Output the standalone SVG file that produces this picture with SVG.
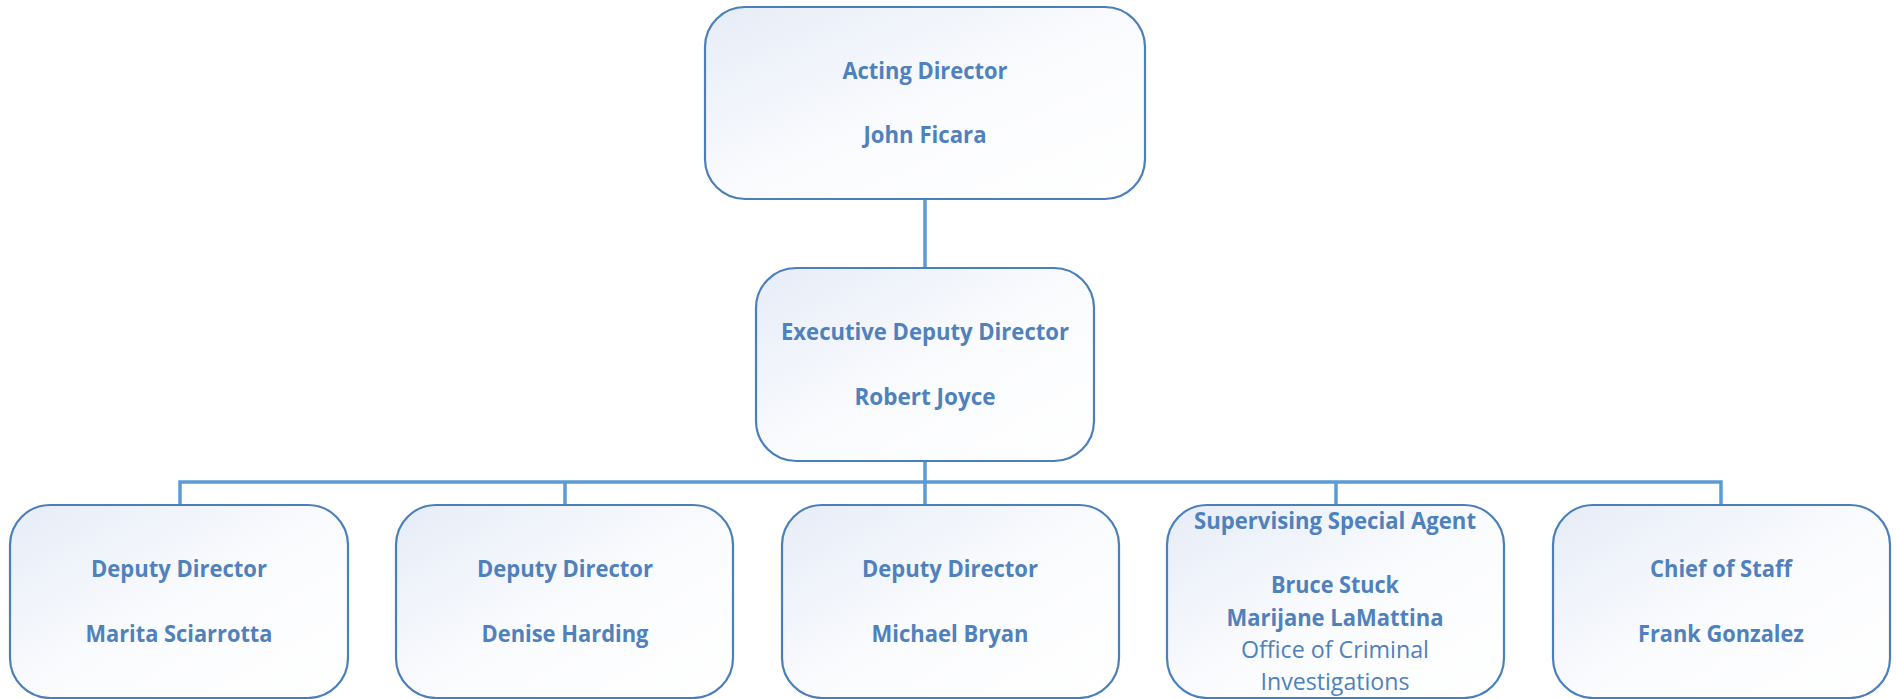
<svg xmlns="http://www.w3.org/2000/svg" width="1896" height="699" viewBox="0 0 1896 699">
<defs>
<linearGradient id="g" x1="0" y1="0" x2="1" y2="1">
<stop offset="0" stop-color="#e6ecf7"/>
<stop offset="0.55" stop-color="#fbfcfe"/>
<stop offset="1" stop-color="#ffffff"/>
</linearGradient>
<style>
.box{fill:url(#g);stroke:#4a7fbb;stroke-width:2.2}
.t{font-family:"Open Sans","Noto Sans","Liberation Sans",sans-serif;font-size:24px;fill:#4f81bd;text-anchor:middle}
.b{font-weight:bold}
.c{fill:none;stroke:#5b9bd5;stroke-width:3.5}
</style>
</defs>
<rect width="1896" height="699" fill="#ffffff"/>
<g id="connectors">
<line class="c" x1="925" y1="199" x2="925" y2="268"/>
<line class="c" x1="925" y1="461" x2="925" y2="505"/>
<polyline class="c" points="180,505 180,482 1721,482 1721,505"/>
<line class="c" x1="565" y1="482" x2="565" y2="505"/>
<line class="c" x1="1336" y1="482" x2="1336" y2="505"/>
</g>
<g id="acting-director">
<rect class="box" x="705" y="7" width="440" height="192" rx="40" ry="40"/>
<text class="t b" x="925" y="79" textLength="165" lengthAdjust="spacingAndGlyphs">Acting Director</text>
<text class="t b" x="925" y="143" textLength="123" lengthAdjust="spacingAndGlyphs">John Ficara</text>
</g>
<g id="executive-deputy-director">
<rect class="box" x="756" y="268" width="338" height="193" rx="40" ry="40"/>
<text class="t b" x="925" y="340" textLength="288" lengthAdjust="spacingAndGlyphs">Executive Deputy Director</text>
<text class="t b" x="925" y="405" textLength="141" lengthAdjust="spacingAndGlyphs">Robert Joyce</text>
</g>
<g id="deputy-sciarrotta">
<rect class="box" x="10" y="505" width="338" height="193" rx="40" ry="40"/>
<text class="t b" x="179" y="577" textLength="176" lengthAdjust="spacingAndGlyphs">Deputy Director</text>
<text class="t b" x="179" y="642" textLength="187" lengthAdjust="spacingAndGlyphs">Marita Sciarrotta</text>
</g>
<g id="deputy-harding">
<rect class="box" x="396" y="505" width="337" height="193" rx="40" ry="40"/>
<text class="t b" x="565" y="577" textLength="176" lengthAdjust="spacingAndGlyphs">Deputy Director</text>
<text class="t b" x="565" y="642" textLength="167" lengthAdjust="spacingAndGlyphs">Denise Harding</text>
</g>
<g id="deputy-bryan">
<rect class="box" x="782" y="505" width="337" height="193" rx="40" ry="40"/>
<text class="t b" x="950" y="577" textLength="176" lengthAdjust="spacingAndGlyphs">Deputy Director</text>
<text class="t b" x="950" y="642" textLength="157" lengthAdjust="spacingAndGlyphs">Michael Bryan</text>
</g>
<g id="supervising-special-agent">
<rect class="box" x="1167" y="505" width="337" height="193" rx="40" ry="40"/>
<text class="t b" x="1335" y="529" textLength="282" lengthAdjust="spacingAndGlyphs">Supervising Special Agent</text>
<text class="t b" x="1335" y="593" textLength="128" lengthAdjust="spacingAndGlyphs">Bruce Stuck</text>
<text class="t b" x="1335" y="626" textLength="217" lengthAdjust="spacingAndGlyphs">Marijane LaMattina</text>
<text class="t" x="1335" y="658" textLength="188" lengthAdjust="spacingAndGlyphs">Office of Criminal</text>
<text class="t" x="1335" y="690" textLength="149" lengthAdjust="spacingAndGlyphs">Investigations</text>
</g>
<g id="chief-of-staff">
<rect class="box" x="1553" y="505" width="337" height="193" rx="40" ry="40"/>
<text class="t b" x="1721" y="577" textLength="142" lengthAdjust="spacingAndGlyphs">Chief of Staff</text>
<text class="t b" x="1721" y="642" textLength="166" lengthAdjust="spacingAndGlyphs">Frank Gonzalez</text>
</g>
</svg>
